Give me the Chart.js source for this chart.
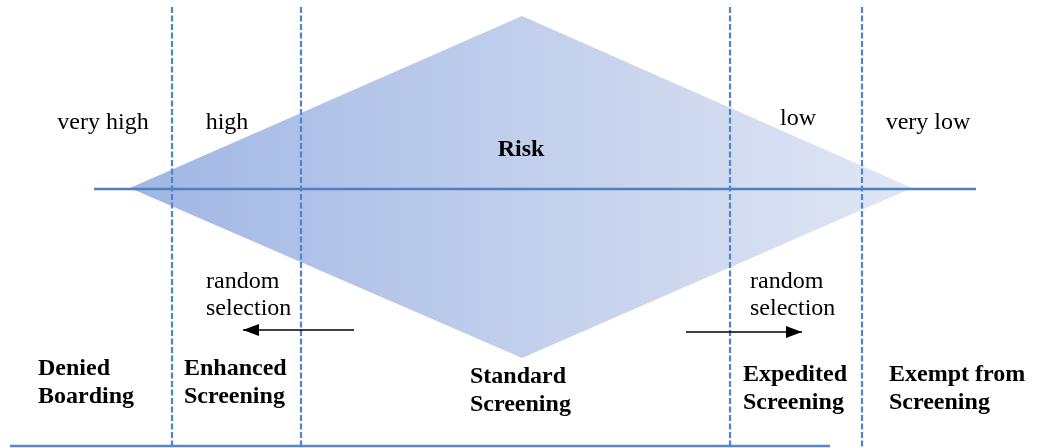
<!DOCTYPE html>
<html>
<head>
<meta charset="utf-8">
<script src="https://cdn.jsdelivr.net/npm/chart.js@4"></script>
<style>
  html, body { margin: 0; padding: 0; background: #ffffff; }
  #wrap { position: relative; width: 1047px; height: 448px; }
</style>
</head>
<body>
<div id="wrap"><canvas id="c"></canvas></div>
<script>
// ---- diagram data (in diagram units: x 0..1047, y 0..448 downward) ----
const diamondX = [130, 522, 912, 522, 130];
const diamondY = [188, 16, 188, 358, 188];
const axisLineX = [94, 976];
const axisLineY = 189;
const dividerX = [172, 301, 730, 862];
const dividerTop = 7;
const dividerBottom = 448;
const baseLineX = [10, 830];
const baseLineY = 446;

const riskLevels = ['very high', 'high', 'low', 'very low'];
const riskLevelX = [103, 227, 798, 928];
const riskLevelY = [123, 123, 119, 123];

const screeningLabels = [['Denied', 'Boarding'], ['Enhanced', 'Screening'], ['Standard', 'Screening'], ['Expedited', 'Screening'], ['Exempt from', 'Screening']];
const screeningX = [38, 184, 470, 743, 889];
const screeningY = [369, 369, 377, 375, 375];

const randomLabel = ['random', 'selection'];
const randomX = [206, 750];
const randomY = [282, 282];

const arrowFromX = [354, 686];
const arrowToX = [243, 802];
const arrowY = [330, 332];

const titleText = 'Risk';
const titleX = 521;
const titleY = 150;

// ---- build datasets ----
const datasets = [];
datasets.push({
  label: 'risk',
  type: 'line',
  data: diamondX.map((x, i) => ({ x: x, y: diamondY[i] })),
  borderWidth: 0,
  borderColor: 'rgba(0,0,0,0)',
  pointRadius: 0,
  fill: 'shape',
  tension: 0,
  order: 10,
  backgroundColor: (ctx) => {
    const chart = ctx.chart;
    const xs = chart.scales && chart.scales.x;
    if (!chart.chartArea || !xs) return '#c2d0ec';
    const x0 = xs.getPixelForValue(diamondX[0]);
    const x1 = xs.getPixelForValue(diamondX[2]);
    if (!isFinite(x0) || !isFinite(x1)) return '#c2d0ec';
    const g = chart.ctx.createLinearGradient(x0, 0, x1, 0);
    g.addColorStop(0, '#a0b6e5');
    g.addColorStop(0.5, '#c1cfec');
    g.addColorStop(1, '#e0e6f4');
    return g;
  }
});
datasets.push({
  label: 'axis', type: 'line',
  data: axisLineX.map(x => ({ x: x, y: axisLineY })),
  borderColor: '#4f81bd', borderWidth: 2.5, pointRadius: 0, fill: false, order: 5
});
dividerX.forEach((dx, i) => {
  datasets.push({
    label: 'divider' + i, type: 'line',
    data: [{ x: dx, y: dividerTop }, { x: dx, y: dividerBottom }],
    borderColor: '#4f86c8', borderWidth: 2.2, borderDash: [6, 2.5], pointRadius: 0, fill: false, order: 4
  });
});
datasets.push({
  label: 'base', type: 'line',
  data: baseLineX.map(x => ({ x: x, y: baseLineY })),
  borderColor: '#5b86c4', borderWidth: 2.5, pointRadius: 0, fill: false, order: 4
});
arrowFromX.forEach((fx, i) => {
  datasets.push({
    label: 'arrow' + i, type: 'line',
    data: [{ x: fx, y: arrowY[i] }, { x: arrowToX[i], y: arrowY[i] }],
    borderColor: '#000000', borderWidth: 1.5, pointRadius: 0, fill: false, order: 3
  });
});

const serif = '"Liberation Serif", "Times New Roman", serif';

const textPlugin = {
  id: 'diagramText',
  afterDatasetsDraw(chart) {
    const c = chart.ctx;
    const xs = chart.scales.x, ys = chart.scales.y;
    const px = v => xs.getPixelForValue(v);
    const py = v => ys.getPixelForValue(v);
    c.save();
    // arrowheads
    c.fillStyle = '#000';
    arrowFromX.forEach((fx, i) => {
      const tip = px(arrowToX[i]);
      const dir = arrowToX[i] > fx ? 1 : -1;
      const y = py(arrowY[i]);
      c.beginPath();
      c.moveTo(tip, y);
      c.lineTo(tip - dir * 16, y - 6);
      c.lineTo(tip - dir * 16, y + 6);
      c.closePath();
      c.fill();
    });
    c.fillStyle = '#000';
    c.textBaseline = 'middle';
    // risk levels
    c.font = '24px ' + serif;
    c.textAlign = 'center';
    riskLevels.forEach((t, i) => c.fillText(t, px(riskLevelX[i]), py(riskLevelY[i])));
    // random selection
    c.textAlign = 'left';
    randomX.forEach((rx, i) => {
      randomLabel.forEach((t, j) => c.fillText(t, px(rx), py(randomY[i] + j * 27)));
    });
    // title
    c.font = 'bold 24px ' + serif;
    c.textAlign = 'center';
    c.fillText(titleText, px(titleX), py(titleY));
    // screening labels
    c.textAlign = 'left';
    screeningLabels.forEach((lines, i) => {
      lines.forEach((t, j) => c.fillText(t, px(screeningX[i]), py(screeningY[i] + j * 28)));
    });
    c.restore();
  }
};

new Chart(document.getElementById('c'), {
  type: 'scatter',
  data: { datasets: datasets },
  options: {
    responsive: true,
    maintainAspectRatio: false,
    animation: false,
    layout: { padding: 0 },
    plugins: { legend: { display: false }, tooltip: { enabled: false } },
    elements: { line: { tension: 0 } },
    scales: {
      x: { type: 'linear', min: 0, max: 1047, display: false },
      y: { type: 'linear', min: 0, max: 448, reverse: true, display: false }
    }
  },
  plugins: [textPlugin]
});
</script>
</body>
</html>
